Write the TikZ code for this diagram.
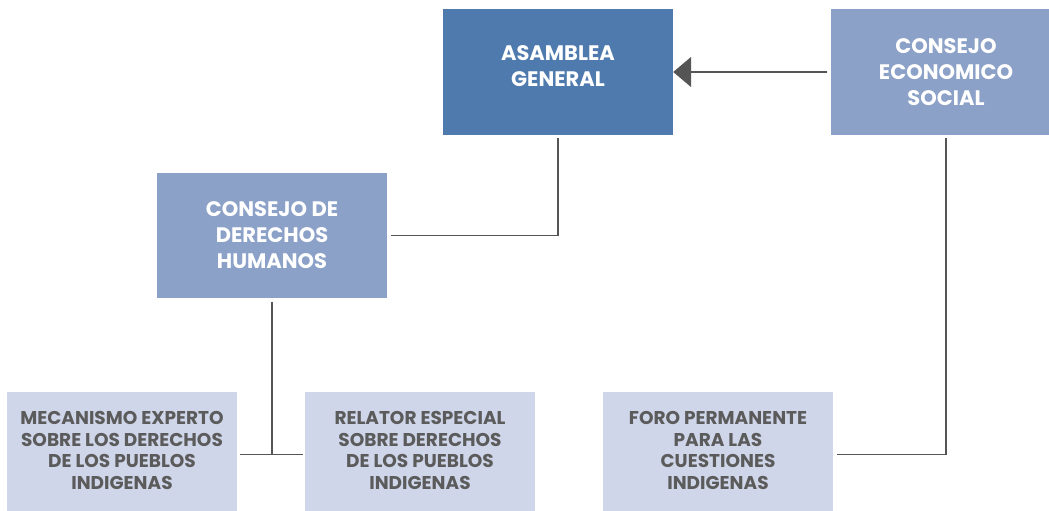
\documentclass[tikz,border=0pt]{standalone}
\usepackage{fontspec}
\setmainfont{Poppins}
\usetikzlibrary{arrows.meta}
\definecolor{agblue}{HTML}{4E7AAE}
\definecolor{midblue}{HTML}{8CA1C7}
\definecolor{lowblue}{HTML}{CFD6E9}
\definecolor{textgray}{HTML}{5B5B5B}
\definecolor{linegray}{HTML}{555555}
\begin{document}
\begin{tikzpicture}[x=1pt,y=-1pt,
  box/.style={rectangle,minimum width=230pt,minimum height=125pt,inner sep=0pt,align=center,text=white,
    font=\bfseries\fontsize{21}{26}\selectfont},
  topbox/.style={box,fill=agblue,text depth=12pt},
  midbox/.style={box,fill=midblue},
  lowbox/.style={box,fill=lowblue,text=textgray,text depth=8pt,font=\bfseries\fontsize{18.5}{21.8}\selectfont},
  link/.style={draw=linegray,line width=1.6pt,shorten <=3.5pt,shorten >=3.5pt}]
  \clip (0,0) rectangle (1049,511);
  \node[topbox] (ag)   at (558,72)    {ASAMBLEA\\GENERAL};
  \node[midbox] (ces)  at (946,72)    {CONSEJO\\ECONOMICO\\SOCIAL};
  \node[midbox] (cdh)  at (272,235.5) {CONSEJO DE\\DERECHOS\\HUMANOS};
  \node[lowbox] (mec)  at (122,454.5) {MECANISMO EXPERTO\\SOBRE LOS DERECHOS\\DE LOS PUEBLOS\\INDIGENAS};
  \node[lowbox] (rel)  at (420,454.5) {RELATOR ESPECIAL\\SOBRE DERECHOS\\DE LOS PUEBLOS\\INDIGENAS};
  \node[lowbox] (foro) at (718,454.5) {FORO PERMANENTE\\PARA LAS\\CUESTIONES\\INDIGENAS};

  \draw[link,shorten >=0pt,-{Triangle[length=18pt,width=30pt]},fill=linegray] (ces.west) -- (ag.east);
  \draw[link] (ag.south) |- (cdh.east);
  \draw[link,shorten >=0pt] (cdh.south) -- (cdh.south |- mec.east);
  \draw[link,shorten <=3pt,shorten >=2pt] (mec.east) -- (rel.west);
  \draw[link] (ces.south) |- (foro.east);
\end{tikzpicture}
\end{document}
